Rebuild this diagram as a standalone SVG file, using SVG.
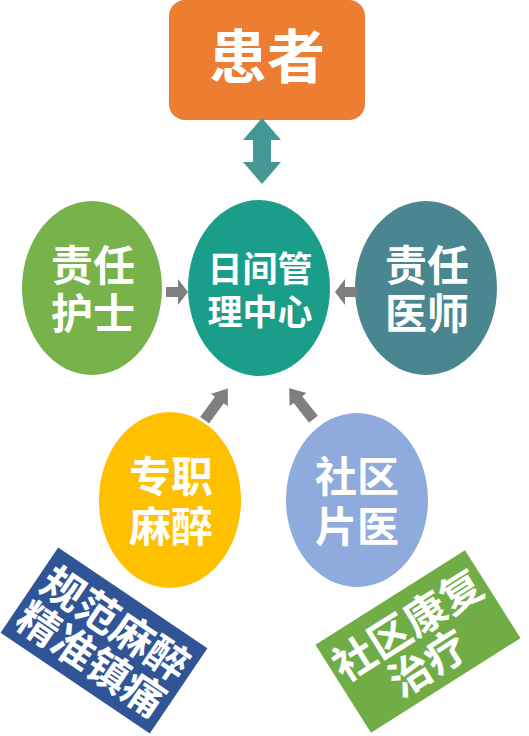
<svg xmlns="http://www.w3.org/2000/svg" width="529" height="736" viewBox="0 0 529 736">
<style>
text{font-family:"Noto Sans CJK SC","Liberation Sans",sans-serif;font-weight:700;fill:#fff;text-anchor:middle}
.gray{fill:#7F7F7F}
</style>
<defs>
<polygon id="arr" points="0,-6.5 25,-6.5 25,-12.5 42,0 25,12.5 25,6.5 0,6.5"/>
</defs>
<rect width="529" height="736" fill="#fff"/>
<g id="patient">
<rect x="169" y="0" width="196" height="120" rx="16" fill="#ED7D31"/>
<text x="267" y="78" font-size="58">患者</text>
</g>
<g id="nurse">
<ellipse cx="92" cy="288" rx="70" ry="87" fill="#78B24A"/>
<text font-size="42"><tspan x="93" y="281">责任</tspan><tspan x="93" y="329">护士</tspan></text>
</g>
<g id="center">
<ellipse cx="259" cy="288" rx="71" ry="88" fill="#1A9E8A"/>
<text font-size="35"><tspan x="260" y="282">日间管</tspan><tspan x="260" y="325">理中心</tspan></text>
</g>
<g id="doctor">
<ellipse cx="426" cy="288" rx="71" ry="87" fill="#4A868F"/>
<text font-size="42"><tspan x="427" y="281">责任</tspan><tspan x="427" y="329">医师</tspan></text>
</g>
<g id="anesthesia">
<ellipse cx="170" cy="500" rx="71" ry="88" fill="#FFC000"/>
<text font-size="42"><tspan x="171" y="492">专职</tspan><tspan x="171" y="542">麻醉</tspan></text>
</g>
<g id="community">
<ellipse cx="357" cy="500" rx="71" ry="87" fill="#8FAADC"/>
<text font-size="42"><tspan x="357" y="492">社区</tspan><tspan x="357" y="542">片医</tspan></text>
</g>
<g id="note-left" transform="translate(104,640.5) rotate(34)">
<rect x="-90" y="-51.5" width="180" height="103" fill="#2F5597"/>
<text font-size="42"><tspan x="0" y="-5">规范麻醉</tspan><tspan x="0" y="38">精准镇痛</tspan></text>
</g>
<g id="note-right" transform="translate(418,641.5) rotate(-32.3)">
<rect x="-88.5" y="-52" width="177" height="104" fill="#70AD47"/>
<text font-size="42"><tspan x="0" y="-4">社区康复</tspan><tspan x="-3" y="39">治疗</tspan></text>
</g>
<g id="connectors">
<polygon points="262,118 281,140 271,140 271,162 281,162 262,184 243,162 253,162 253,140 243,140" fill="#459793"/>
<polygon class="gray" points="166,287 178,287 178,279 188,292 178,305 178,297 166,297"/>
<polygon class="gray" points="357,287 345,287 345,279 335,292 345,305 345,297 357,297"/>
<use href="#arr" class="gray" stroke="#fff" stroke-width="2" transform="translate(204,421) rotate(-53.7)"/>
<use href="#arr" class="gray" stroke="#fff" stroke-width="2" transform="translate(314,420) rotate(-128)"/>
</g>
</svg>
